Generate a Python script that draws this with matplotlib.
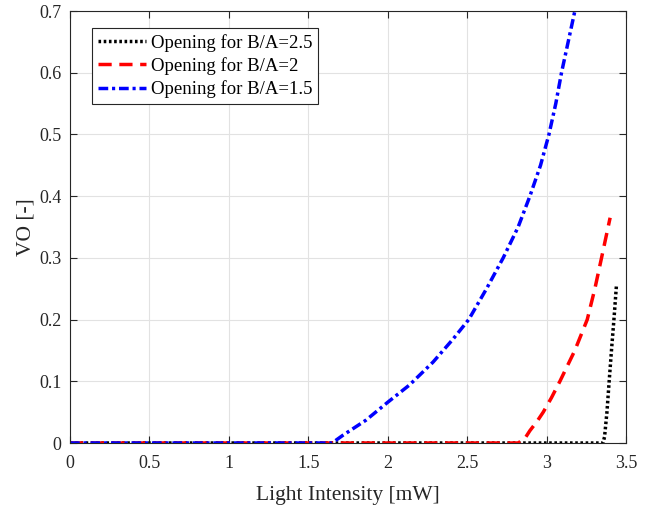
import numpy as np
import matplotlib
matplotlib.use('Agg')
import matplotlib.pyplot as plt

# curve data
x_ba25 = [0, 3.355, 3.365, 3.38, 3.394, 3.41, 3.424, 3.44]
y_ba25 = [0, 0, 0.01, 0.05, 0.10, 0.155, 0.20, 0.256]

x_ba20 = [0, 2.82, 2.86, 2.895, 2.94, 2.979, 3.03, 3.084, 3.178, 3.256, 3.304, 3.346, 3.40]
y_ba20 = [0, 0, 0.006, 0.02, 0.035, 0.05, 0.073, 0.10, 0.15, 0.20, 0.25, 0.30, 0.365]

x_ba15 = [0, 1.65, 1.715, 1.863, 2.0, 2.137, 2.285, 2.41, 2.51, 2.622, 2.727, 2.821,
          2.895, 2.962, 3.015, 3.058, 3.094, 3.136, 3.178, 3.19]
y_ba15 = [0, 0, 0.012, 0.037, 0.066, 0.094, 0.131, 0.168, 0.20, 0.25, 0.30, 0.35,
          0.40, 0.45, 0.50, 0.55, 0.60, 0.65, 0.70, 0.715]

labels = ['Opening for B/A=2.5', 'Opening for B/A=2', 'Opening for B/A=1.5']
xticks = [0, 0.5, 1, 1.5, 2, 2.5, 3, 3.5]
yticks = [0, 0.1, 0.2, 0.3, 0.4, 0.5, 0.6, 0.7]

plt.rcParams['font.family'] = ['Liberation Serif', 'DejaVu Serif']
dark = '#262626'

fig = plt.figure(figsize=(6.5, 5.05), dpi=100)
ax = fig.add_axes([70/650, 62/505, 556/650, 432/505])

lw = 2.5
ax.plot(x_ba25, y_ba25, color='k', linewidth=lw, linestyle=(0, (0.75, 0.75)), label=labels[0])
ax.plot(x_ba20, y_ba20, color='r', linewidth=lw, linestyle=(0, (3.8, 2.2)), label=labels[1])
ax.plot(x_ba15, y_ba15, color='b', linewidth=lw, linestyle=(0, (2.8, 1.1, 0.9, 1.1)), label=labels[2])

ax.set_xlim(0, 3.5)
ax.set_ylim(0, 0.7)
ax.set_xticks(xticks)
ax.set_xticklabels([f'{v:g}' for v in xticks])
ax.set_yticks(yticks)
ax.set_yticklabels([f'{v:g}' for v in yticks])
ax.grid(True, color='#e2e2e2', linewidth=0.8)
ax.set_axisbelow(True)
ax.tick_params(direction='in', length=5, top=True, right=True, colors=dark,
               labelsize=13, width=0.8)
ax.tick_params(axis='x', pad=9)
ax.tick_params(axis='y', pad=6)
for s in ax.spines.values():
    s.set_color(dark)
    s.set_linewidth(0.8)

ax.set_xlabel('Light Intensity [mW]', fontsize=15.5, color=dark, labelpad=10)
ax.set_ylabel('VO [-]', fontsize=15.5, color=dark, labelpad=3)

leg = ax.legend(loc='upper left', bbox_to_anchor=(22/556, 1 - 17/432), borderaxespad=0,
                fontsize=13.5, handlelength=2.6, handletextpad=0.25, labelspacing=0.3,
                borderpad=0.3, fancybox=False, framealpha=1)
leg.get_frame().set_edgecolor(dark)
leg.get_frame().set_linewidth(0.8)

fig.savefig('out.png', dpi=100)
